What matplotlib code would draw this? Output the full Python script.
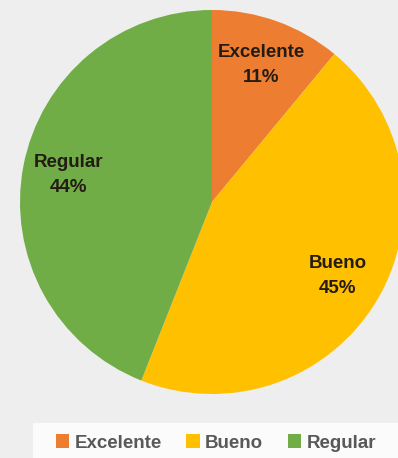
import matplotlib.pyplot as plt
from matplotlib.patches import Rectangle

# survey result shares
categories = ["Excelente", "Bueno", "Regular"]
values = [11, 45, 44]
colors = ["#ED7D31", "#FFC000", "#70AD47"]

plt.rcParams['font.family'] = ['Liberation Sans', 'DejaVu Sans']

fig = plt.figure(figsize=(3.98, 4.58), dpi=100)
fig.patch.set_facecolor("#eeeeee")

# white strip behind the legend
fig.patches.append(Rectangle((33/398, 0), 1, 35/458, transform=fig.transFigure,
                             facecolor="#fbfbfb", edgecolor="none", zorder=0))

ax = fig.add_axes([20/398, 64/458, 384/398, 384/458])
ax.set_facecolor("none")

labels = [f"{c}\n{v}%" for c, v in zip(categories, values)]
wedges, texts = ax.pie(values, colors=colors, startangle=90, counterclock=False,
                       labels=labels, labeldistance=0.76,
                       wedgeprops=dict(edgecolor="none"),
                       textprops=dict(fontsize=13.5, fontweight="bold",
                                      color="#241c14", ha="center",
                                      va="center", linespacing=1.6))
ax.set_xlim(-1, 1)
ax.set_ylim(-1, 1)
ax.set_aspect("equal")

fig.legend(wedges, categories, loc="center", bbox_to_anchor=(216/398, 15/458),
           ncol=3, frameon=False, handlelength=0.7, handleheight=0.7,
           handletextpad=0.3, columnspacing=1.3,
           prop=dict(size=13.5, weight="bold"), labelcolor="#595959")

plt.savefig("out.png", dpi=100, facecolor=fig.get_facecolor())
